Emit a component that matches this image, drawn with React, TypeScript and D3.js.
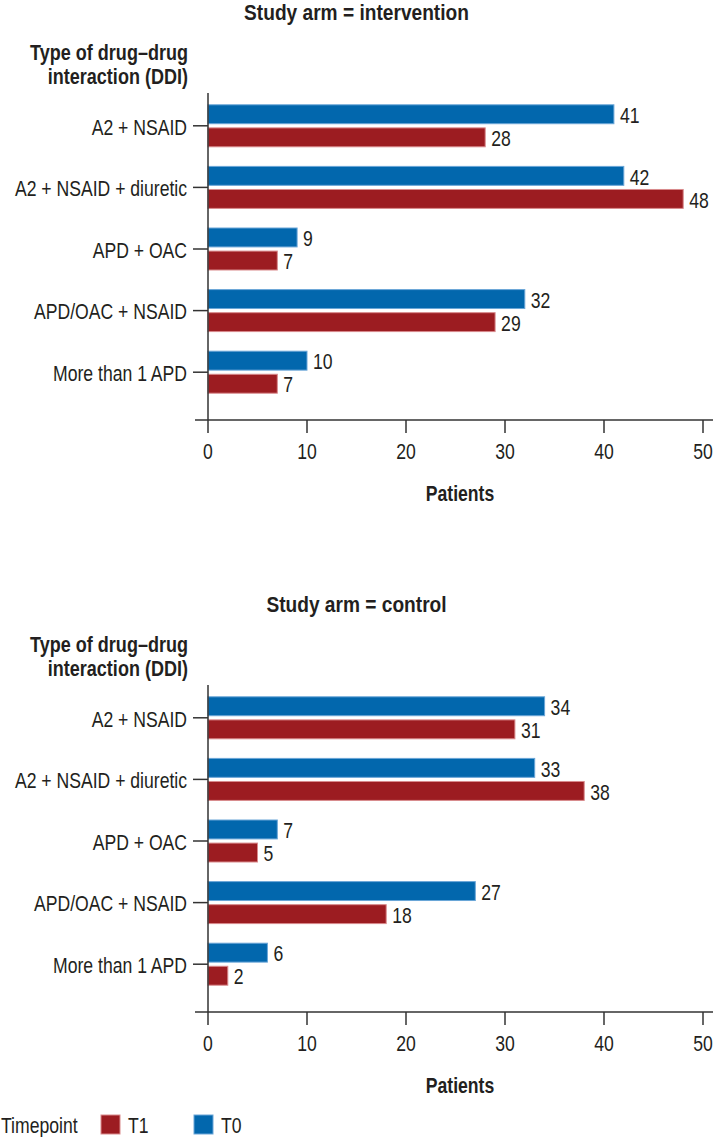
import React from 'react';
import * as d3 from 'd3';

const categories = [
  'A2 + NSAID',
  'A2 + NSAID + diuretic',
  'APD + OAC',
  'APD/OAC + NSAID',
  'More than 1 APD',
];
const series = ['T0', 'T1'];
const interventionT0 = [41, 42, 9, 32, 10];
const interventionT1 = [28, 48, 7, 29, 7];
const controlT0 = [34, 33, 7, 27, 6];
const controlT1 = [31, 38, 5, 18, 2];
const xTicks = [0, 10, 20, 30, 40, 50];
const legendItems = ['T1', 'T0'];

const colors: Record<string, string> = { T0: '#0267ad', T1: '#9c1c21' };
const strokes: Record<string, string> = { T0: '#6aa6d8', T1: '#d98a8c' };

const font = '"Liberation Sans", Arial, Helvetica, sans-serif';
const ink = '#231f20';
const axisColor = '#333';

const W = 713;
const H = 1137;

const x = d3.scaleLinear().domain([0, 50]).range([208, 703]);
const y = d3.scalePoint<string>().domain(categories).range([95, 403]).padding(0.5);
const inner = d3.scaleBand<string>().domain(series).range([-21, 21]).paddingInner(0.18);

// condensed text: the original uses a narrow Helvetica, so squeeze Liberation Sans horizontally
function T({ x, y, size, sx, bold, anchor, children }: {
  x: number; y: number; size: number; sx: number; bold?: boolean; anchor?: string; children: React.ReactNode;
}) {
  return (
    <text transform={`translate(${x},${y}) scale(${sx},1)`} fontSize={size} fontWeight={bold ? 'bold' : 'normal'}
      textAnchor={anchor || 'start'} dominantBaseline="central">
      {children}
    </text>
  );
}

function Panel({ top, title, t0, t1 }: { top: number; title: string; t0: number[]; t1: number[] }) {
  const vals: Record<string, number[]> = { T0: t0, T1: t1 };
  const axisY = 420;
  return (
    <g transform={`translate(0,${top})`} fontFamily={font} fill={ink}>
      <T x={W / 2} y={12} size={22} sx={0.87} bold anchor="middle">{title}</T>
      <T x={188} y={52} size={22} sx={0.82} bold anchor="end">Type of drug–drug</T>
      <T x={188} y={76} size={22} sx={0.82} bold anchor="end">interaction (DDI)</T>
      {categories.map((c, i) => (
        <g key={c}>
          {series.map(s => {
            const v = vals[s][i];
            const by = (y(c) as number) + (inner(s) as number);
            return (
              <g key={s}>
                <rect x={x(0)} y={by} width={x(v) - x(0)} height={inner.bandwidth()}
                  fill={colors[s]} stroke={strokes[s]} strokeWidth={1} />
                <T x={x(v) + 6} y={by + inner.bandwidth() / 2 + 1} size={22} sx={0.8}>{v}</T>
              </g>
            );
          })}
          <line x1={193} x2={208} y1={y(c)} y2={y(c)} stroke={axisColor} strokeWidth={1.5} />
          <T x={187} y={(y(c) as number) + 1} size={22} sx={0.8} anchor="end">{c}</T>
        </g>
      ))}
      <line x1={208} x2={208} y1={93} y2={axisY} stroke={axisColor} strokeWidth={1.5} />
      <line x1={195} x2={W} y1={axisY} y2={axisY} stroke={axisColor} strokeWidth={1.5} />
      {xTicks.map(t => (
        <g key={t}>
          <line x1={x(t)} x2={x(t)} y1={axisY} y2={axisY + 13} stroke={axisColor} strokeWidth={1.5} />
          <T x={x(t)} y={451} size={22} sx={0.8} anchor="middle">{t}</T>
        </g>
      ))}
      <T x={460} y={493} size={22} sx={0.8} bold anchor="middle">Patients</T>
    </g>
  );
}

export default function App() {
  return (
    <svg width={W} height={H} style={{ position: 'absolute', left: 0, top: 0 }}>
      <rect width={W} height={H} fill="#fff" />
      <Panel top={0} title="Study arm = intervention" t0={interventionT0} t1={interventionT1} />
      <Panel top={592} title="Study arm = control" t0={controlT0} t1={controlT1} />
      <g fontFamily={font} fill={ink}>
        <T x={1} y={1125} size={22} sx={0.8}>Timepoint</T>
        {legendItems.map((s, i) => (
          <g key={s} transform={`translate(${101 + i * 93},0)`}>
            <rect x={0} y={1115} width={19} height={19} fill={colors[s]} stroke={strokes[s]} strokeWidth={1} />
            <T x={27} y={1125} size={22} sx={0.8}>{s}</T>
          </g>
        ))}
      </g>
    </svg>
  );
}
